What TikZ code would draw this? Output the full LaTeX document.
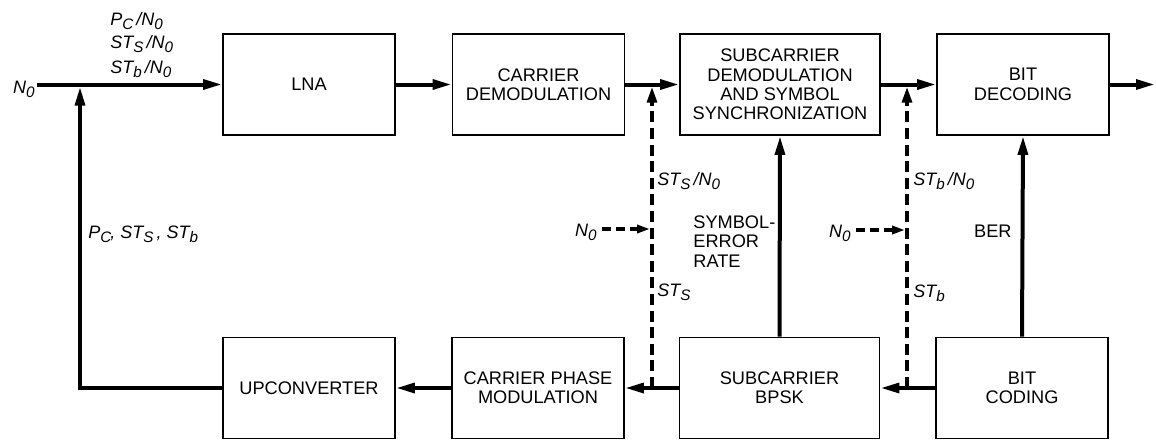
\documentclass[tikz,border=0pt]{standalone}
\usepackage{fontspec}
\setmainfont{Liberation Sans}
\usetikzlibrary{arrows.meta}
\newcommand\sbs[1]{\raisebox{-0.45ex}{\fontsize{7.6}{8}\selectfont #1}}
\begin{document}
\begin{tikzpicture}[x=0.5pt,y=-0.5pt,
  blk/.style={draw,line width=0.8pt,minimum width=86pt,minimum height=50.5pt,inner sep=0pt,align=center,font=\fontsize{9.1}{9.7}\selectfont},
  flow/.style={line width=2pt,-{Triangle[length=9.5pt,width=4.8pt]}},
  dsh/.style={line width=1.9pt,dash pattern=on 5.5pt off 2.8pt},
  dsharr/.style={dsh,-{Triangle[length=8pt,width=4.8pt]}},
  noisearr/.style={line width=1.8pt,dash pattern=on 4.5pt off 2.5pt,-{Triangle[length=6.5pt,width=4pt]}},
  lbl/.style={font=\fontsize{9}{10}\selectfont\itshape,inner sep=0pt},
  txt/.style={font=\fontsize{9.1}{9.9}\selectfont,inner sep=0pt,align=left}
]
\useasboundingbox (0,0) rectangle (1156,440);

% blocks
\node[blk] (lna) at (309,84.5) {LNA};
\node[blk] (cd) at (538.5,84.5) {CARRIER\\DEMODULATION};
\node[blk,minimum width=100pt] (sd) at (780,84.5) {SUBCARRIER\\DEMODULATION\\AND SYMBOL\\SYNCHRONIZATION};
\node[blk] (bd) at (1023,84.5) {BIT\\DECODING};
\node[blk] (up) at (309,388) {UPCONVERTER};
\node[blk] (cpm) at (538,388) {CARRIER PHASE\\MODULATION};
\node[blk,minimum width=100pt] (sb) at (779.5,388) {SUBCARRIER\\BPSK};
\node[blk] (bc) at (1022,388) {BIT\\CODING};

% input
\node[lbl,anchor=base east] (n0in) at (35,93) {N\sbs{0}};
\coordinate (in) at (37,84.5);
\draw[flow] (in) -- (lna.west);
\node[lbl,anchor=base west] (l1) at (110,25) {P\sbs{C}\,/N\sbs{0}};
\node[lbl,anchor=base west] (l2) at (110,48) {ST\sbs{S}\,/N\sbs{0}};
\node[lbl,anchor=base west] (l3) at (110,73) {ST\sbs{b}\,/N\sbs{0}};

% top chain
\draw[flow] (lna.east) -- (cd.west);
\draw[flow] (cd.east) -- (sd.west);
\draw[flow] (sd.east) -- (bd.west);
\coordinate (out) at (1155,84.5);
\draw[flow] (bd.east) -- (out);

% bottom chain
\draw[flow] (bc.west) -- (sb.east);
\draw[flow] (sb.west) -- (cpm.east);
\draw[flow] (cpm.west) -- (up.east);
\coordinate (fb) at (80,84.5);
\draw[flow,shorten >=1pt] (up.west) -| (fb);
\node[lbl,anchor=base west] (lfb) at (88,238) {P\sbs{C}\kern-0.5pt, ST\sbs{S}\,, ST\sbs{b}};

% vertical feedback of rates
\draw[flow] (sb.north) -- (sd.south);
\draw[flow] (bc.north) -- (bd.south);
\node[txt,anchor=north west] (ser) at (693,215) {SYMBOL-\\ERROR\\RATE};
\node[txt,anchor=base east] (ber) at (1012,237) {BER};

% dashed symbol path
\coordinate (j1b) at (652,388);
\coordinate (j1t) at (652,84.5);
\draw[dsharr,shorten >=1pt] (j1b) -- (j1t);
\node[lbl,anchor=base west] (s1) at (657,185) {ST\sbs{S}\,/N\sbs{0}};
\node[lbl,anchor=base west] (s2) at (657,296) {ST\sbs{S}};
\node[lbl,anchor=base east] (n0a) at (597,236) {N\sbs{0}};
\coordinate (t1) at (650,229);
\draw[noisearr] (n0a.east |- t1) ++(5,0) -- (t1);

% dashed bit path
\coordinate (j2b) at (907,388);
\coordinate (j2t) at (907,84.5);
\draw[dsharr,shorten >=1pt] (j2b) -- (j2t);
\node[lbl,anchor=base west] (b1) at (913,185) {ST\sbs{b}\,/N\sbs{0}};
\node[lbl,anchor=base west] (b2) at (913,297) {ST\sbs{b}};
\node[lbl,anchor=base east] (n0b) at (851,237) {N\sbs{0}};
\coordinate (t2) at (905,230);
\draw[noisearr] (n0b.east |- t2) ++(5,0) -- (t2);
\end{tikzpicture}
\end{document}
